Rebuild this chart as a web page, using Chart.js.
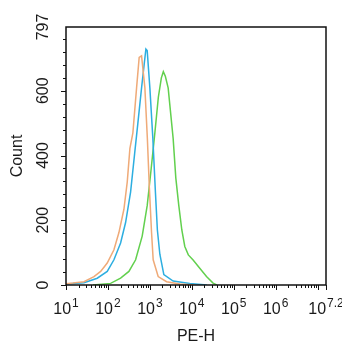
<!DOCTYPE html>
<html>
<head>
<meta charset="utf-8">
<script src="https://cdn.jsdelivr.net/npm/chart.js@4"></script>
<style>
  html, body { margin: 0; padding: 0; background: #fff; }
  #wrap { width: 342px; height: 350px; }
</style>
</head>
<body>
<div id="wrap"><canvas id="histChart" width="342" height="350"></canvas></div>
<script>
var orangeExp = [1.000, 1.167, 1.429, 1.667, 1.826, 1.983, 2.143, 2.262, 2.381, 2.460, 2.524, 2.595,
                 2.683, 2.745, 2.802, 2.881, 2.940, 2.988, 3.040, 3.079, 3.198, 3.398, 3.714, 4.071];
var orangeCount = [4, 6, 10, 26, 42, 68, 109, 162, 234, 318, 422, 470,
                   609, 703, 708, 609, 453, 300, 162, 78, 26, 10, 3, 0];

var blueExp = [1.000, 1.429, 1.745, 1.983, 2.143, 2.302, 2.421, 2.540, 2.636, 2.714, 2.802,
               2.905, 2.936, 3.000, 3.071, 3.131, 3.179, 3.238, 3.333, 3.555, 3.952, 4.357];
var blueCount = [3, 7, 21, 42, 78, 130, 193, 287, 405, 500, 609,
                 729, 724, 609, 453, 290, 170, 95, 32, 12, 5, 0];

var greenExp = [1.643, 2.064, 2.302, 2.500, 2.660, 2.817, 2.936, 3.031, 3.119, 3.202, 3.274,
                3.321, 3.369, 3.436, 3.555, 3.619, 3.690, 3.762, 3.833, 3.917, 4.031, 4.190,
                4.350, 4.507, 4.595];
var greenCount = [0, 5, 21, 42, 78, 151, 245, 359, 470, 580, 640,
                  659, 645, 609, 453, 330, 245, 170, 119, 93, 77, 52,
                  26, 6, 0];

var yTickLabels = [0, 200, 400, 600, 797];
var xTickExps = ['1', '2', '3', '4', '5', '6', '7.2'];
var yMax = 797;
var xMaxExp = 7.2;

function toPoints(exps, counts) {
  return exps.map(function(e, i) { return { x: Math.pow(10, e), y: counts[i] }; });
}

var axesPlugin = {
  id: 'flowAxes',
  afterDraw: function(chart) {
    var ctx = chart.ctx;
    var area = chart.chartArea;
    var xs = chart.scales.x;
    var ys = chart.scales.y;
    ctx.save();

    // frame
    ctx.strokeStyle = '#111';
    ctx.lineWidth = 1.5;
    ctx.strokeRect(area.left, area.top, area.right - area.left, area.bottom - area.top);

    // y tick marks, minor every 40
    ctx.lineWidth = 1;
    for (var v = 0; v <= yMax; v += 40) {
      var py = Math.round(ys.getPixelForValue(v)) + 0.5;
      var len = v % 200 === 0 ? 5 : 3;
      ctx.beginPath();
      ctx.moveTo(area.left - len, py);
      ctx.lineTo(area.left, py);
      ctx.stroke();
    }

    // x tick marks, log minors
    for (var d = 1; d <= 7; d++) {
      for (var m = 1; m <= 9; m++) {
        var val = m * Math.pow(10, d);
        if (val > xs.max) break;
        var px = Math.round(xs.getPixelForValue(val)) + 0.5;
        var l = m === 1 ? 5 : 3;
        ctx.beginPath();
        ctx.moveTo(px, area.bottom);
        ctx.lineTo(px, area.bottom + l);
        ctx.stroke();
      }
    }
    var pEnd = Math.round(xs.getPixelForValue(Math.pow(10, xMaxExp))) + 0.5;
    ctx.beginPath();
    ctx.moveTo(pEnd, area.bottom);
    ctx.lineTo(pEnd, area.bottom + 5);
    ctx.stroke();

    ctx.fillStyle = '#1a1a1a';
    var baseFont = '"Liberation Sans", Arial, sans-serif';

    // y labels, rotated
    ctx.font = '16px ' + baseFont;
    ctx.textAlign = 'center';
    ctx.textBaseline = 'middle';
    yTickLabels.forEach(function(t) {
      ctx.save();
      ctx.translate(44, ys.getPixelForValue(t));
      ctx.rotate(-Math.PI / 2);
      ctx.fillText(String(t), 0, 0);
      ctx.restore();
    });

    // x labels as 10^e
    ctx.textAlign = 'left';
    ctx.textBaseline = 'alphabetic';
    xTickExps.forEach(function(e) {
      var cx = xs.getPixelForValue(Math.pow(10, parseFloat(e)));
      ctx.font = '16px ' + baseFont;
      var w1 = ctx.measureText('10').width;
      ctx.font = '12px ' + baseFont;
      var w2 = ctx.measureText(e).width;
      var x0 = cx - (w1 + w2 + 1) / 2;
      ctx.font = '16px ' + baseFont;
      ctx.fillText('10', x0, 314);
      ctx.font = '12px ' + baseFont;
      ctx.fillText(e, x0 + w1 + 1, 307);
    });

    // axis titles
    ctx.font = '16px ' + baseFont;
    ctx.textAlign = 'center';
    ctx.textBaseline = 'middle';
    ctx.fillText('PE-H', (area.left + area.right) / 2, 337);
    ctx.save();
    ctx.translate(18, (area.top + area.bottom) / 2);
    ctx.rotate(-Math.PI / 2);
    ctx.fillText('Count', 0, 0);
    ctx.restore();

    ctx.restore();
  }
};

var ctx = document.getElementById('histChart').getContext('2d');
var histChart = new Chart(ctx, {
  type: 'line',
  data: {
    datasets: [{
      label: 'orange',
      data: toPoints(orangeExp, orangeCount),
      borderColor: '#EFAA78',
      borderWidth: 1.5,
      pointRadius: 0,
      fill: false
    }, {
      label: 'blue',
      data: toPoints(blueExp, blueCount),
      borderColor: '#2DAEE0',
      borderWidth: 1.5,
      pointRadius: 0,
      fill: false
    }, {
      label: 'green',
      data: toPoints(greenExp, greenCount),
      borderColor: '#62D04E',
      borderWidth: 1.5,
      pointRadius: 0,
      fill: false
    }]
  },
  options: {
    responsive: false,
    animation: false,
    layout: { padding: { left: 66, right: 16, top: 27, bottom: 65 } },
    plugins: { legend: { display: false }, tooltip: { enabled: false } },
    elements: { line: { tension: 0 } },
    scales: {
      x: { type: 'logarithmic', min: 10, max: Math.pow(10, xMaxExp), display: false },
      y: { type: 'linear', min: 0, max: yMax, display: false }
    }
  },
  plugins: [axesPlugin]
});
</script>
</body>
</html>
